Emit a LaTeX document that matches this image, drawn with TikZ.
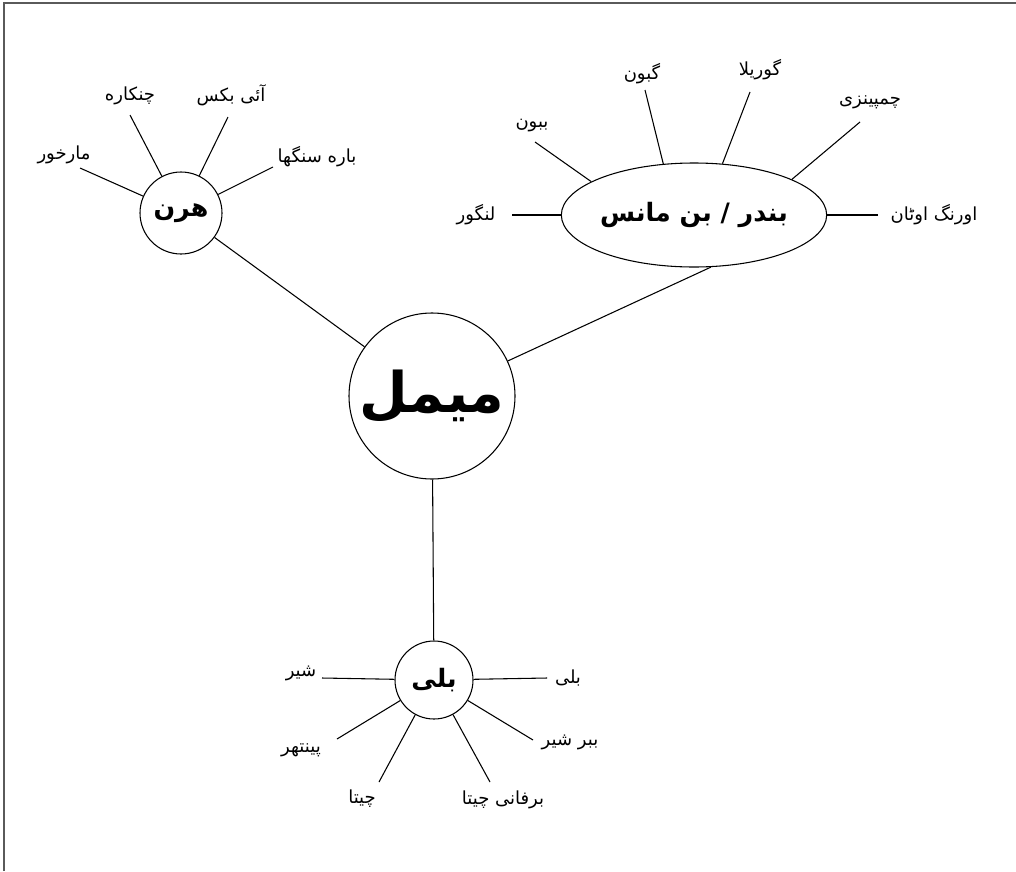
\documentclass[tikz,border=0pt]{standalone}
\usepackage{fontspec}
\usetikzlibrary{shapes.geometric}
\TeXXeTstate=1
\newfontfamily\ur[Script=Arabic]{DejaVu Sans}
\definecolor{framec}{HTML}{5A5A5A}
\tikzset{
  conn/.style={line width=0.8pt, black},
  hub/.style={circle, draw, line width=0.8pt, inner sep=0pt},
  leaf/.style={inner sep=0pt, font=\ur\fontsize{13.5}{16}\selectfont},
  hubtext/.style={font=\ur\bfseries\fontsize{19}{22}\selectfont}
}
\newcommand{\rl}[1]{\beginR #1\endR}
\begin{document}
\begin{tikzpicture}[x=0.75pt,y=-0.75pt]
\useasboundingbox (0,0) rectangle (1016,871);
\draw[framec, line width=1.5pt] (4,871) -- (4,3) -- (1016,3);

% hubs
\node[hub, minimum size=124.5pt, font=\ur\bfseries\fontsize{42}{46}\selectfont] (mammal) at (432,396) {\rl{میمل}};
\node[hub, hubtext, minimum size=61.5pt] (hiran) at (181,213) {\rl{هرن}};
\node[ellipse, draw, line width=0.8pt, inner sep=0pt, minimum width=168pt, minimum height=78pt, font=\ur\bfseries\fontsize{19}{22}\selectfont] (bandar) at (694,215) {\rl{بندر / بن مانس}};
\node[hub, hubtext, minimum size=58.5pt] (billi) at (434,680) {\rl{بلی}};

\draw[conn] (hiran) -- (mammal);
\draw[conn] (bandar.-72) -- (mammal);
\draw[conn] (mammal) -- (billi);

% hiran leaves
\coordinate (cmarkhor) at (80,168);
\coordinate (cchinkara) at (130,115);
\coordinate (cibex) at (228,117);
\coordinate (cbara) at (273,167);
\node[leaf] (lmarkhor) at (64,155) {\rl{مارخور}};
\node[leaf] (lchinkara) at (130,96) {\rl{چنکاره}};
\node[leaf] (libex) at (231,95) {\rl{آئی بکس}};
\node[leaf] (lbara) at (317,157) {\rl{باره سنگھا}};
\foreach \c in {cmarkhor,cchinkara,cibex,cbara} \draw[conn] (\c) -- (hiran);

% bandar leaves
\coordinate (clangur) at (512,215);
\coordinate (cbaboon) at (535,142);
\coordinate (cgibbon) at (645,90);
\coordinate (cgorilla) at (750,92);
\coordinate (cchimp) at (860,122);
\coordinate (corang) at (878,215);
\node[leaf] (llangur) at (476,215) {\rl{لنگور}};
\node[leaf] (lbaboon) at (532,126) {\rl{ببون}};
\node[leaf] (lgibbon) at (642,74) {\rl{گبون}};
\node[leaf] (lgorilla) at (760,70) {\rl{گوریلا}};
\node[leaf] (lchimp) at (870,102) {\rl{چمپینزی}};
\node[leaf] (lorang) at (934,215) {\rl{اورنگ اوٹان}};
\draw[conn] (clangur) -- (bandar.west);
\draw[conn] (cbaboon) -- (bandar.162);
\draw[conn] (cgibbon) -- (bandar.121);
\draw[conn] (cgorilla) -- (bandar.61);
\draw[conn] (cchimp) -- (bandar.20);
\draw[conn] (corang) -- (bandar.east);

% billi leaves
\coordinate (csher) at (322,678);
\coordinate (cbilli) at (547,678);
\coordinate (cbabbar) at (533,740);
\coordinate (cbarfani) at (490,782);
\coordinate (ccheeta) at (379,782);
\coordinate (cpanther) at (337,739);
\node[leaf] (lsher) at (301,673) {\rl{شیر}};
\node[leaf] (lbilli) at (568,678) {\rl{بلی}};
\node[leaf] (lbabbar) at (570,742) {\rl{ببر شیر}};
\node[leaf] (lbarfani) at (503,800) {\rl{برفانی چیتا}};
\node[leaf] (lcheeta) at (362,799) {\rl{چیتا}};
\node[leaf] (lpanther) at (301,750) {\rl{پینتھر}};
\foreach \c in {csher,cbilli,cbabbar,cbarfani,ccheeta,cpanther} \draw[conn] (\c) -- (billi);
\end{tikzpicture}
\end{document}
